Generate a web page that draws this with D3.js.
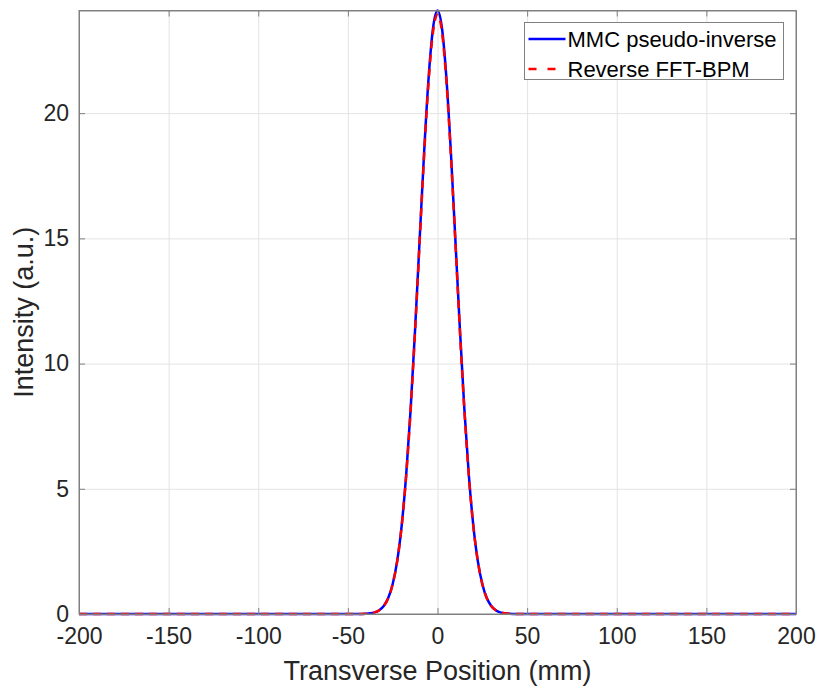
<!DOCTYPE html>
<html>
<head>
<meta charset="utf-8">
<script src="https://cdn.jsdelivr.net/npm/d3@7"></script>
<style>
  body { margin: 0; background: #fff; }
  svg { font-family: "Liberation Sans", Arial, sans-serif; }
  .grid line { stroke: #e3e3e3; stroke-width: 1; }
  .grid path { display: none; }
  .axis path, .axis line { stroke: #808080; stroke-width: 1; }
  .axis text { fill: #262626; font-size: 23px; }
</style>
</head>
<body>
<div id="chart"></div>
<script>
// transverse position (mm)
var positions = [-200, -50, -45, -42.5, -40, -37.5, -35, -32.5, -30, -27.5, -25, -22.5, -20, -17.5, -15, -12.5, -10, -7.5, -5, -2.5,
  0, 2.5, 5, 7.5, 10, 12.5, 15, 17.5, 20, 22.5, 25, 27.5, 30, 32.5, 35, 37.5, 40, 42.5, 45, 50, 200];

// MMC pseudo-inverse intensity
var mmcValues = [0, 0, 0.001, 0.004, 0.011, 0.028, 0.067, 0.15, 0.318, 0.636, 1.2, 2.11, 3.52, 5.53, 8.17, 11.37, 14.9, 18.39, 21.37, 23.39,
  24.1, 23.39, 21.37, 18.39, 14.9, 11.37, 8.17, 5.53, 3.52, 2.11, 1.2, 0.636, 0.318, 0.15, 0.067, 0.028, 0.011, 0.004, 0.001, 0, 0];

// reverse FFT-BPM intensity
var bpmValues = [0, 0, 0.001, 0.004, 0.011, 0.028, 0.066, 0.149, 0.315, 0.63, 1.19, 2.1, 3.5, 5.5, 8.12, 11.3, 14.81, 18.27, 21.23, 23.23,
  23.94, 23.23, 21.23, 18.27, 14.81, 11.3, 8.12, 5.5, 3.5, 2.1, 1.19, 0.63, 0.315, 0.149, 0.066, 0.028, 0.011, 0.004, 0.001, 0, 0];

var xTicks = [-200, -150, -100, -50, 0, 50, 100, 150, 200];
var yTicks = [0, 5, 10, 15, 20];
var seriesNames = ["MMC pseudo-inverse", "Reverse FFT-BPM"];

var svgWidth = 818, svgHeight = 686;
var margin = { top: 10.5, right: 22, bottom: 72, left: 79 };
var width = svgWidth - margin.left - margin.right;
var height = svgHeight - margin.top - margin.bottom;

var svg = d3.select("#chart").append("svg")
    .attr("width", svgWidth)
    .attr("height", svgHeight);

var g = svg.append("g")
    .attr("transform", "translate(" + margin.left + "," + margin.top + ")");

var x = d3.scaleLinear().domain([-200, 200]).range([0, width]);
var y = d3.scaleLinear().domain([0, 24.1]).range([height, 0]);

// plain hyphen minus like matlab
var fmt = function(d) { return String(d); };

// grid
g.append("g").attr("class", "grid")
    .attr("transform", "translate(0," + height + ")")
    .call(d3.axisBottom(x).tickValues(xTicks).tickSize(-height).tickFormat(""));
g.append("g").attr("class", "grid")
    .call(d3.axisLeft(y).tickValues(yTicks).tickSize(-width).tickFormat(""));

// curves
var line = d3.line()
    .x(function(d) { return x(d[0]); })
    .y(function(d) { return y(d[1]); })
    .curve(d3.curveMonotoneX);

var mmc = positions.map(function(p, i) { return [p, mmcValues[i]]; });
var bpm = positions.map(function(p, i) { return [p, bpmValues[i]]; });

g.append("path").datum(mmc)
    .attr("d", line)
    .attr("fill", "none")
    .attr("stroke", "#0000ff")
    .attr("stroke-width", 2.5);

g.append("path").datum(bpm)
    .attr("d", line)
    .attr("fill", "none")
    .attr("stroke", "#ff0000")
    .attr("stroke-width", 2.5)
    .attr("stroke-dasharray", "8,6");

// axes, ticks pointing inward
g.append("g").attr("class", "axis")
    .attr("transform", "translate(0," + height + ")")
    .call(d3.axisBottom(x).tickValues(xTicks).tickSizeInner(-6).tickSizeOuter(0).tickPadding(14).tickFormat(fmt));
g.append("g").attr("class", "axis")
    .call(d3.axisTop(x).tickValues(xTicks).tickSizeInner(-6).tickSizeOuter(0).tickFormat(""));
g.append("g").attr("class", "axis")
    .call(d3.axisLeft(y).tickValues(yTicks).tickSizeInner(-6).tickSizeOuter(0).tickPadding(10).tickFormat(fmt));
g.append("g").attr("class", "axis")
    .attr("transform", "translate(" + width + ",0)")
    .call(d3.axisRight(y).tickValues(yTicks).tickSizeInner(-6).tickSizeOuter(0).tickFormat(""));

g.append("rect")
    .attr("width", width).attr("height", height)
    .attr("fill", "none").attr("stroke", "#808080").attr("stroke-width", 1);

// axis labels
svg.append("text")
    .attr("x", margin.left + width / 2)
    .attr("y", 680)
    .attr("text-anchor", "middle")
    .attr("fill", "#262626")
    .style("font-size", "27px")
    .text("Transverse Position (mm)");

svg.append("text")
    .attr("transform", "translate(33," + (margin.top + height / 2) + ") rotate(-90)")
    .attr("text-anchor", "middle")
    .attr("fill", "#262626")
    .style("font-size", "27px")
    .text("Intensity (a.u.)");

// legend
var legend = svg.append("g").attr("transform", "translate(524.5,22.5)");
legend.append("rect")
    .attr("width", 259).attr("height", 57)
    .attr("fill", "#fff").attr("stroke", "#808080").attr("stroke-width", 1);

var styles = [{ color: "#0000ff", dash: null }, { color: "#ff0000", dash: "8,11" }];
seriesNames.forEach(function(name, i) {
    var row = legend.append("g").attr("transform", "translate(0," + (16.5 + i * 30) + ")");
    row.append("line")
        .attr("x1", 4).attr("x2", 41)
        .attr("stroke", styles[i].color)
        .attr("stroke-width", 2.5)
        .attr("stroke-dasharray", styles[i].dash);
    row.append("text")
        .attr("x", 43).attr("dy", "0.35em")
        .attr("fill", "#000")
        .style("font-size", "22px")
        .text(name);
});
</script>
</body>
</html>
